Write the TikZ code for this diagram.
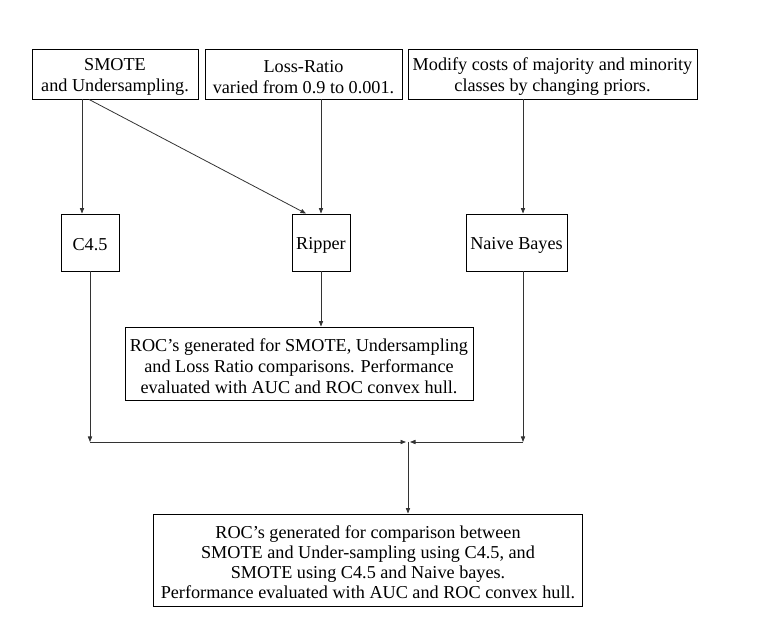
\documentclass[tikz,border=0pt]{standalone}
\usepackage{fontspec}
\setmainfont{Liberation Serif}
\usetikzlibrary{arrows.meta}
\begin{document}
\begin{tikzpicture}[x=1pt,y=-1pt,
  box/.style={draw=black,line width=0.9pt,inner sep=0pt},
  txt/.style={align=center,inner sep=0pt,font=\fontsize{18.2}{21}\selectfont},
  conn/.style={draw=black!80,line width=0.8pt},
  arr/.style={conn,-{Triangle[length=5.5pt,width=4.2pt]}}]
\useasboundingbox (0,0) rectangle (780,636);
\node[box,minimum width=166pt,minimum height=50pt] (smote) at (115,74) {};
\node[txt] (smoteT) at ([yshift=-3pt]smote.center) {SMOTE\\ and Undersampling.};
\node[box,minimum width=197pt,minimum height=50pt] (loss) at (303.5,74) {};
\node[txt] (lossT) at ([yshift=-3pt]loss.center) {Loss-Ratio\\ varied from 0.9 to 0.001.};
\node[box,minimum width=289pt,minimum height=50pt] (modify) at (552.5,74) {};
\node[txt] (modifyT) at ([yshift=-3pt]modify.center) {Modify costs of majority and minority\\ classes by changing priors.};
\node[box,minimum width=58pt,minimum height=57pt] (c45) at (90,242.5) {};
\node[txt] (c45T) at ([yshift=-2.5pt]c45.center) {C4.5};
\node[box,minimum width=58pt,minimum height=57pt] (ripper) at (321,242.5) {};
\node[txt] (ripperT) at ([yshift=-2.5pt]ripper.center) {Ripper};
\node[box,minimum width=101pt,minimum height=57pt] (naive) at (516.5,242.5) {};
\node[txt] (naiveT) at ([yshift=-2.5pt]naive.center) {Naive Bayes};
\node[box,minimum width=348pt,minimum height=73pt] (rocmid) at (299,363.5) {};
\node[txt] (rocmidT) at ([yshift=-3pt]rocmid.center) {ROC's generated for SMOTE, Undersampling\\ and Loss Ratio comparisons. Performance\\ evaluated with AUC and ROC convex hull.};
\node[box,minimum width=429pt,minimum height=92pt] (final) at (368,560) {};
\node[txt,font=\fontsize{18.2}{20}\selectfont] (finalT) at ([yshift=-2pt]final.center) {ROC's generated for comparison between\\ SMOTE and Under-sampling using C4.5, and\\ SMOTE using C4.5 and Naive bayes.\\ Performance evaluated with AUC and ROC convex hull.};
\coordinate (xa) at (82,0);
\coordinate (xn) at (523,0);
\coordinate (jl) at (90,442);
\coordinate (jr) at (523,442);
\coordinate (ml) at (406,442);
\coordinate (mr) at (410,442);
\coordinate (mc) at (408,442);
\draw[arr] (smote.south -| xa) -- (c45.north -| xa);
\draw[arr] ([xshift=-26pt]smote.south) -- ([xshift=-15pt]ripper.north);
\draw[arr] (loss.south -| ripper.north) -- (ripper.north);
\draw[arr] (modify.south -| xn) -- (naive.north -| xn);
\draw[arr] (ripper.south) -- (rocmid.north -| ripper.south);
\draw[arr] (c45.south) -- (jl);
\draw[arr] (jl) -- (ml);
\draw[arr] (naive.south -| xn) -- (jr);
\draw[arr] (jr) -- (mr);
\draw[arr] (mc) -- (final.north -| mc);
\end{tikzpicture}
\end{document}
